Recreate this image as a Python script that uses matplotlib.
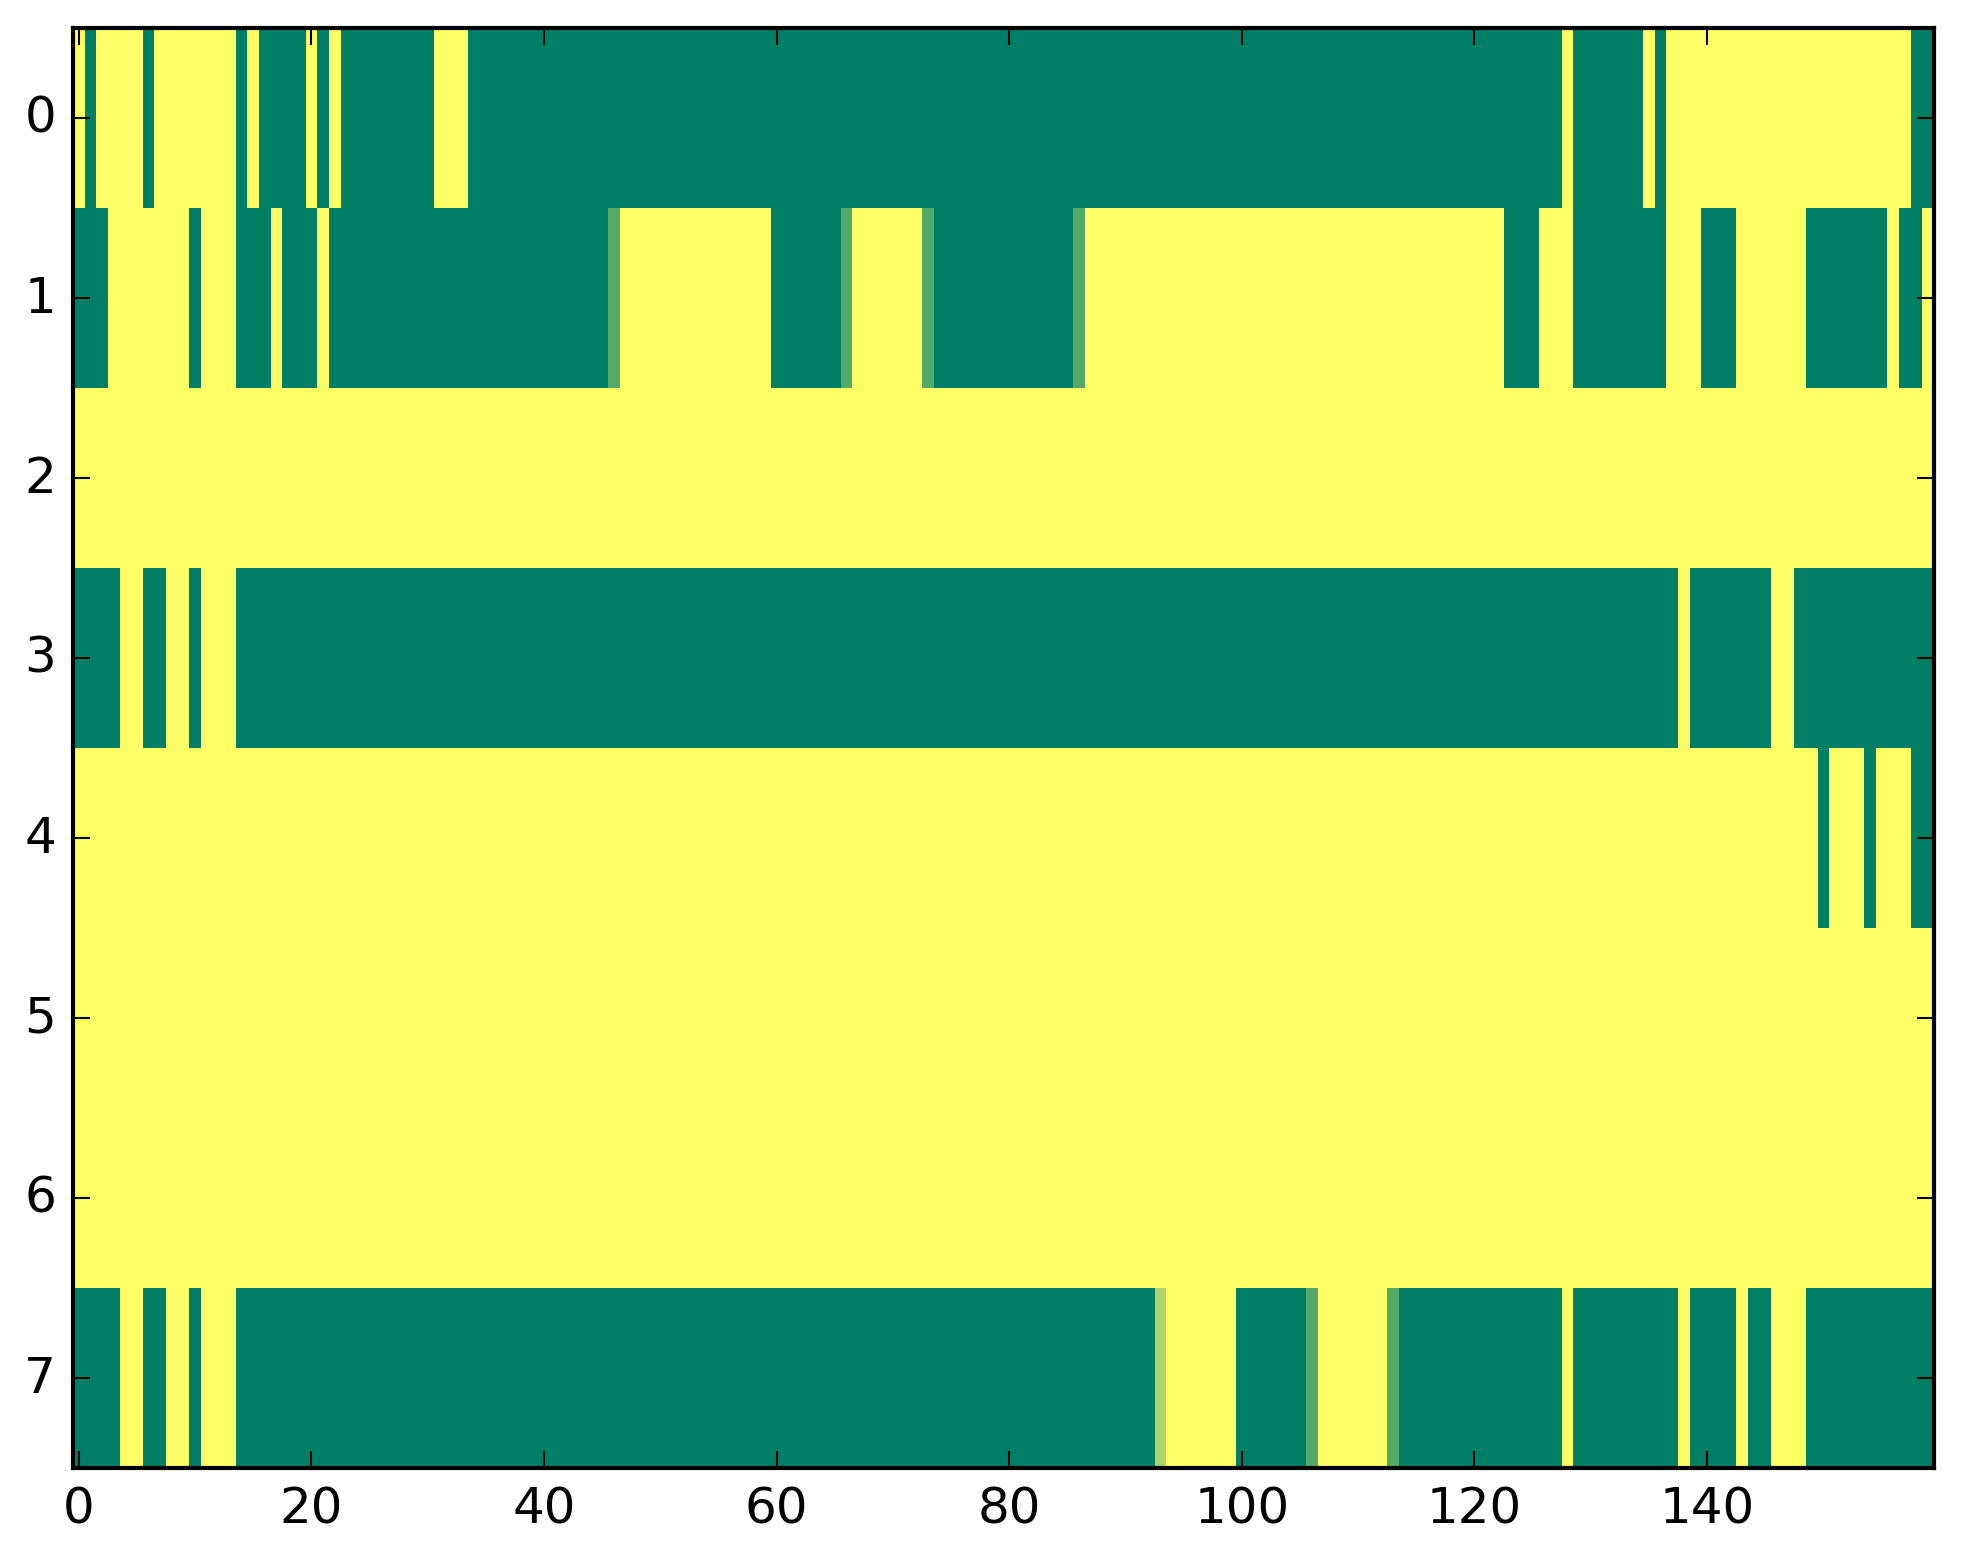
import numpy as np
import matplotlib
matplotlib.use("Agg")
import matplotlib.pyplot as plt

# Cell values read left to right, stored as (value, run length) pairs; 160 columns per row
row_0 = [(1, 1), (0, 1), (1, 4), (0, 1), (1, 7), (0, 1), (1, 1), (0, 4), (1, 1), (0, 1),
         (1, 1), (0, 8), (1, 3), (0, 94), (1, 1), (0, 6), (1, 1), (0, 1), (1, 21), (0, 2)]
row_1 = [(0, 3), (1, 7), (0, 1), (1, 3), (0, 3), (1, 1), (0, 3), (1, 1), (0, 24), (0.33, 1),
         (1, 13), (0, 6), (0.33, 1), (1, 6), (0.33, 1), (0, 12), (0.33, 1), (1, 36), (0, 3),
         (1, 3), (0, 8), (1, 3), (0, 3), (1, 6), (0, 7), (1, 1), (0, 2), (1, 1)]
row_2 = [(1, 160)]
row_3 = [(0, 4), (1, 2), (0, 2), (1, 2), (0, 1), (1, 3), (0, 124), (1, 1), (0, 7), (1, 2), (0, 12)]
row_4 = [(1, 150), (0, 1), (1, 3), (0, 1), (1, 3), (0, 2)]
row_5 = [(1, 160)]
row_6 = [(1, 160)]
row_7 = [(0, 4), (1, 2), (0, 2), (1, 2), (0, 1), (1, 3), (0, 79), (0.67, 1), (1, 6), (0, 6),
         (0.33, 1), (1, 6), (0.33, 1), (0, 14), (1, 1), (0, 9), (1, 1), (0, 4), (1, 1), (0, 2),
         (1, 3), (0, 11)]

rows = [row_0, row_1, row_2, row_3, row_4, row_5, row_6, row_7]
x_ticks = [0, 20, 40, 60, 80, 100, 120, 140]
y_ticks = [0, 1, 2, 3, 4, 5, 6, 7]


def expand(runs):
    vals = [v for v, n in runs]
    counts = [n for v, n in runs]
    return np.repeat(vals, counts)


grid = np.vstack([expand(r) for r in rows])

plt.style.use("classic")
plt.rcParams["font.family"] = ["DejaVu Sans"]

W, H, DPI = 1963, 1564, 300
fig = plt.figure(figsize=(W / DPI, H / DPI), dpi=DPI, facecolor="white")
ax = fig.add_axes([72.9 / W, (H - 1468.7) / H, (1933.7 - 72.9) / W, 1440.0 / H])
ax.imshow(grid, cmap="summer", vmin=0, vmax=1, interpolation="nearest", aspect="auto")
ax.set_xticks(x_ticks)
ax.set_yticks(y_ticks)
ax.tick_params(labelsize=12)

fig.savefig("out.png", dpi=DPI, facecolor="white")
